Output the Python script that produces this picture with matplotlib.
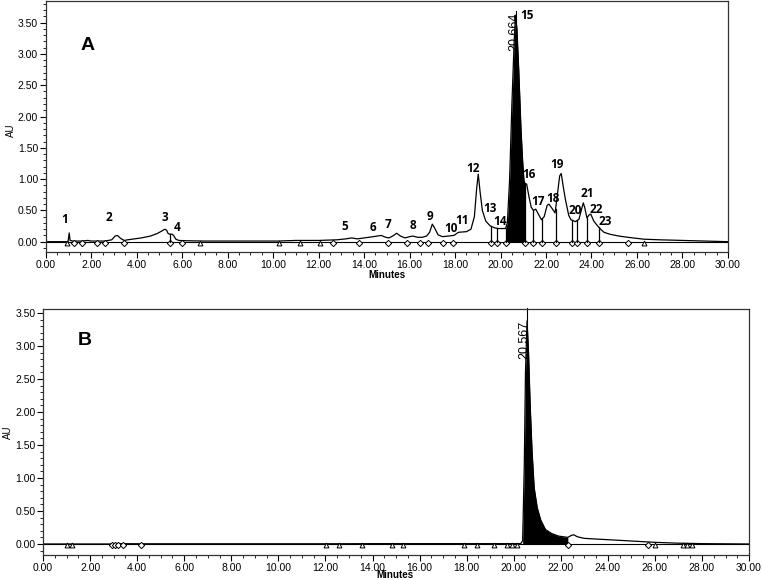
import numpy as np
import matplotlib
matplotlib.use("Agg")
import matplotlib.pyplot as plt
from matplotlib.ticker import MultipleLocator, FormatStrFormatter

# ---------------- data: panel A ----------------
a_time = [0.0, 0.5, 0.98, 1.03, 1.07, 1.2, 1.6, 1.85, 2.0, 2.6, 2.9, 3.05, 3.15, 3.3, 3.45,
          3.6, 3.8, 4.2, 4.6, 4.9, 5.1, 5.24, 5.32, 5.38, 5.45, 5.55, 5.62, 5.72, 5.85, 6.2,
          7.0, 9.0, 10.2, 11.0, 12.0, 12.8, 13.2, 13.45, 13.7, 14.0, 14.4, 14.75, 14.95,
          15.1, 15.3, 15.43, 15.6, 15.8, 16.0, 16.15, 16.35, 16.55, 16.75, 16.88, 17.0,
          17.1, 17.25, 17.45, 17.7, 17.95, 18.15, 18.5, 18.7, 18.85, 18.95, 19.02, 19.1,
          19.2, 19.35, 19.55, 19.75, 19.9, 20.22, 20.3, 20.4, 20.5, 20.6, 20.66, 20.72,
          20.8, 20.9, 20.97, 21.03, 21.07, 21.15, 21.25, 21.35, 21.45, 21.55, 21.65, 21.8,
          21.92, 22.05, 22.13, 22.25, 22.4, 22.5, 22.6, 22.67, 22.75, 22.85, 23.0, 23.1,
          23.3, 23.45, 23.55, 23.64, 23.7, 23.8, 23.9, 23.97, 24.1, 24.25, 24.4, 24.55,
          24.8, 25.2, 25.6, 26.3, 27.0, 28.0, 29.0, 30.0]
a_au = [0.0, 0.0, 0.0, 0.14, 0.02, 0.01, 0.01, 0.02, 0.01, 0.01, 0.03, 0.09, 0.10, 0.05, 0.02,
        0.03, 0.04, 0.06, 0.09, 0.13, 0.17, 0.20, 0.18, 0.13, 0.12, 0.12, 0.10, 0.04, 0.02, 0.015,
        0.01, 0.01, 0.01, 0.02, 0.02, 0.03, 0.045, 0.06, 0.045, 0.06, 0.08, 0.10, 0.07,
        0.06, 0.10, 0.135, 0.09, 0.06, 0.08, 0.09, 0.07, 0.07, 0.09, 0.15, 0.28,
        0.22, 0.11, 0.08, 0.09, 0.10, 0.15, 0.16, 0.20, 0.40, 0.85, 1.08, 0.80,
        0.50, 0.33, 0.25, 0.22, 0.21, 0.21, 0.30, 1.0, 2.2, 3.2, 3.62, 3.40,
        2.75, 1.80, 1.30, 0.98, 0.93, 0.92, 0.72, 0.55, 0.50, 0.52, 0.45, 0.35,
        0.40, 0.58, 0.60, 0.54, 0.46, 0.75, 1.05, 1.09, 0.90, 0.68, 0.42, 0.35,
        0.32, 0.36, 0.50, 0.62, 0.55, 0.38, 0.43, 0.44, 0.33, 0.26, 0.20, 0.15,
        0.12, 0.09, 0.07, 0.04, 0.03, 0.02, 0.01, 0.0]
a_fill = (20.22, 21.07)
a_drops = [5.45, 19.58, 19.86, 20.22, 21.07, 21.44, 21.83, 22.42, 23.15, 23.37, 23.81, 24.33]
a_diamonds = [1.23, 1.61, 2.27, 2.62, 3.45, 5.45, 5.97, 12.64, 13.78, 15.06, 15.87, 16.45,
              16.82, 17.45, 17.89, 19.58, 19.86, 20.22, 21.07, 21.44, 21.83, 22.42, 23.15,
              23.37, 23.81, 24.33, 25.59]
a_triangles = [0.95, 6.77, 10.26, 11.17, 12.08, 26.31]
a_labels = ["1", "2", "3", "4", "5", "6", "7", "8", "9", "10", "11", "12", "13", "14", "15",
            "16", "17", "18", "19", "20", "21", "22", "23"]
a_label_t = [0.84, 2.77, 5.24, 5.76, 13.15, 14.4, 15.06, 16.13, 16.89, 17.8, 18.29, 18.8,
             19.55, 19.98, 21.15, 21.25, 21.66, 22.29, 22.47, 23.27, 23.83, 24.2, 24.59]
a_label_au = [0.36, 0.39, 0.38, 0.23, 0.25, 0.22, 0.28, 0.26, 0.41, 0.21, 0.34, 1.17,
              0.53, 0.33, 3.62, 1.08, 0.64, 0.69, 1.23, 0.50, 0.77, 0.52, 0.32]
a_rt = 20.664

# ---------------- data: panel B ----------------
b_time = [0.0, 2.9, 3.1, 4.2, 12.0, 14.0, 20.3, 20.38, 20.45, 20.5, 20.567, 20.63, 20.7,
          20.78, 20.87, 21.0, 21.15, 21.35, 21.6, 21.9, 22.3, 22.45, 22.55, 22.7, 23.0,
          24.0, 25.0, 26.0, 27.0, 28.0, 30.0]
b_au = [0.0, 0.0, 0.005, 0.003, 0.003, 0.005, 0.005, 0.05, 1.2, 2.6, 3.38, 2.9, 2.1,
        1.4, 0.85, 0.55, 0.36, 0.22, 0.16, 0.12, 0.10, 0.13, 0.14, 0.11, 0.085,
        0.065, 0.045, 0.025, 0.012, 0.005, 0.0]
b_fill = (20.38, 22.3)
b_diamonds = [2.92, 3.06, 3.2, 3.39, 4.17, 22.3, 25.72]
b_triangles = [1.0, 1.22, 12.03, 12.59, 13.57, 14.82, 15.31, 17.9, 18.46, 19.17, 19.7,
               19.92, 20.13, 26.0, 27.19, 27.36, 27.57]
b_rt = 20.567

x_major = [0, 2, 4, 6, 8, 10, 12, 14, 16, 18, 20, 22, 24, 26, 28, 30]

plt.rcParams['font.family'] = ['Liberation Sans', 'DejaVu Sans']

fig = plt.figure(figsize=(7.63, 5.8), dpi=100)
ax1 = fig.add_axes([0.060, 0.5655, 0.894, 0.4327])
ax2 = fig.add_axes([0.0564, 0.0431, 0.9253, 0.4241])


def style(ax, ylim):
    ax.set_xlim(0, 30)
    ax.set_ylim(*ylim)
    ax.set_xticks(x_major)
    ax.xaxis.set_major_formatter(FormatStrFormatter('%.2f'))
    ax.xaxis.set_minor_locator(MultipleLocator(0.5))
    ax.yaxis.set_major_formatter(FormatStrFormatter('%.2f'))
    ax.yaxis.set_minor_locator(MultipleLocator(0.1))
    ax.set_yticks([0, 0.5, 1.0, 1.5, 2.0, 2.5, 3.0, 3.5])
    ax.tick_params(axis='both', which='major', direction='out', length=4, width=0.8,
                   labelsize=7.5, pad=1.5)
    ax.tick_params(axis='both', which='minor', direction='out', length=2, width=0.6)
    for s in ax.spines.values():
        s.set_linewidth(0.9)
        s.set_color('#333333')


def draw(ax, t, y, fill, diamonds, triangles, ylim):
    t = np.asarray(t)
    y = np.asarray(y)
    ax.axhline(0, color='black', lw=0.8)
    ax.plot(t, y, color='black', lw=0.9)
    m = (t >= fill[0]) & (t <= fill[1])
    ax.fill_between(t[m], 0, y[m], color='black', lw=0)
    ax.plot(diamonds, [-0.02] * len(diamonds), ls='none', marker='D', ms=3.2,
            mfc='white', mec='black', mew=0.7)
    ax.plot(triangles, [-0.02] * len(triangles), ls='none', marker='^', ms=3.5,
            mfc='white', mec='black', mew=0.7)
    style(ax, ylim)


draw(ax1, a_time, a_au, a_fill, a_diamonds, a_triangles, (-0.165, 3.845))
ax1.set_xlabel('Minutes', fontsize=7, fontweight='bold', labelpad=0)
fig.text(0.014, 0.776, 'AU', fontsize=7, rotation=90, ha='center', va='center')
at = np.asarray(a_time)
aa = np.asarray(a_au)
for d in a_drops:
    ax1.plot([d, d], [0, np.interp(d, at, aa)], color='black', lw=0.9)
ax1.plot([a_rt, a_rt], [3.3, 3.68], color='black', lw=0.8)
ax1.text(a_rt - 0.06, 3.36, f'{a_rt:.3f}', rotation=90, ha='center', va='center',
         fontsize=9, color='black')
for lab, tx, ty in zip(a_labels, a_label_t, a_label_au):
    ax1.text(tx, ty, lab, ha='center', va='center', fontsize=8.5, fontweight='bold',
             family=['Open Sans', 'DejaVu Sans'])
ax1.text(1.85, 3.14, 'A', ha='center', va='center', fontsize=14, fontweight='bold')

draw(ax2, b_time, b_au, b_fill, b_diamonds, b_triangles, (-0.167, 3.56))
fig.text(0.518, 0.0, 'Minutes', fontsize=7, fontweight='bold', ha='center', va='bottom')
fig.text(0.011, 0.255, 'AU', fontsize=7, rotation=90, ha='center', va='center')
ax2.plot([b_rt, b_rt], [3.2, 3.58], color='black', lw=0.8, clip_on=False)
ax2.text(b_rt - 0.12, 3.1, f'{b_rt:.3f}', rotation=90, ha='center', va='center',
         fontsize=9, color='black')
ax2.text(1.78, 3.09, 'B', ha='center', va='center', fontsize=14, fontweight='bold')

fig.savefig('out.png', dpi=100)
